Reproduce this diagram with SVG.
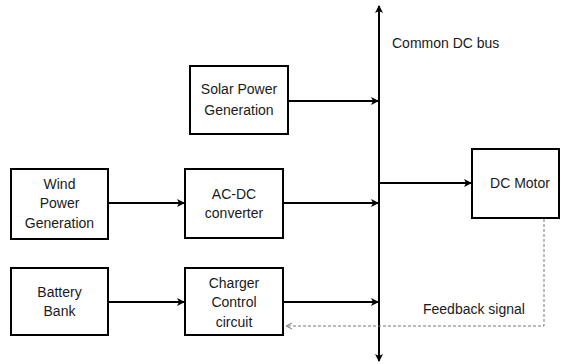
<svg xmlns="http://www.w3.org/2000/svg" width="566" height="364" viewBox="0 0 566 364">
<defs>
<style>
.box{fill:#fff;stroke:#000;stroke-width:2}
.t{font-family:"Liberation Sans",Arial,sans-serif;font-size:14px;fill:#1a1a1a;text-anchor:middle}
.l{fill:none;stroke:#000;stroke-width:2}
.d{fill:none;stroke:#777;stroke-width:1;stroke-dasharray:3,2}
</style>
<marker id="a" markerWidth="8" markerHeight="8" refX="7" refY="4" orient="auto" markerUnits="userSpaceOnUse"><path d="M0,0 L8,4 L0,8 L2,4 Z" fill="#000"/></marker>
<marker id="o" markerWidth="8" markerHeight="8" refX="7" refY="4" orient="auto" markerUnits="userSpaceOnUse"><path d="M1,1 L7,4 L1,7" fill="none" stroke="#777" stroke-width="1"/></marker>
</defs>
<g id="connectors">
<line class="l" x1="379" y1="350" x2="379" y2="6" marker-end="url(#a)"/>
<line class="l" x1="379" y1="200" x2="379" y2="361" marker-end="url(#a)"/>
<line class="l" x1="288" y1="101" x2="378" y2="101" marker-end="url(#a)"/>
<line class="l" x1="108" y1="203" x2="184" y2="203" marker-end="url(#a)"/>
<line class="l" x1="283" y1="203" x2="378" y2="203" marker-end="url(#a)"/>
<line class="l" x1="108" y1="302" x2="184" y2="302" marker-end="url(#a)"/>
<line class="l" x1="283" y1="302" x2="378" y2="302" marker-end="url(#a)"/>
<line class="l" x1="380" y1="183" x2="471" y2="183" marker-end="url(#a)"/>
<polyline class="d" points="544,219 544,326 286,326" marker-end="url(#o)"/>
</g>
<g id="common-dc-bus-label"><text class="t" x="392" y="48" style="text-anchor:start">Common DC bus</text></g>
<g id="solar"><rect class="box" x="190" y="66" width="98" height="68"/><text class="t" x="239" y="94">Solar Power</text><text class="t" x="239" y="115">Generation</text></g>
<g id="wind"><rect class="box" x="11" y="169" width="97" height="70"/><text class="t" x="59.5" y="189">Wind</text><text class="t" x="59.5" y="208">Power</text><text class="t" x="59.5" y="228">Generation</text></g>
<g id="acdc"><rect class="box" x="185" y="169" width="98" height="69"/><text class="t" x="234" y="199">AC-DC</text><text class="t" x="234" y="218">converter</text></g>
<g id="battery"><rect class="box" x="11" y="268" width="97" height="67"/><text class="t" x="59.5" y="297">Battery</text><text class="t" x="59.5" y="316">Bank</text></g>
<g id="charger"><rect class="box" x="185" y="268" width="98" height="67"/><text class="t" x="234" y="288">Charger</text><text class="t" x="234" y="307">Control</text><text class="t" x="234" y="327">circuit</text></g>
<g id="motor"><rect class="box" x="472" y="149" width="87" height="69"/><text class="t" x="520" y="188">DC Motor</text></g>
<g id="feedback-label"><text class="t" x="423" y="314" style="text-anchor:start">Feedback signal</text></g>
</svg>
